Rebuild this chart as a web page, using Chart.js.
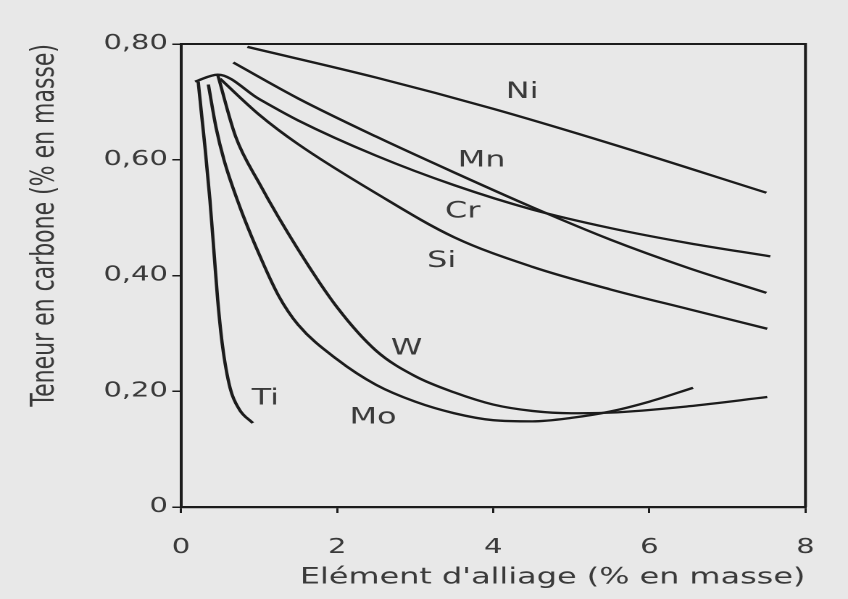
<!DOCTYPE html>
<html>
<head>
<meta charset="utf-8">
<script src="https://cdn.jsdelivr.net/npm/chart.js@4.4.1/dist/chart.umd.min.js"></script>
<style>
  html, body { margin: 0; padding: 0; background: #e8e8e8; overflow: hidden; width: 848px; height: 599px; }
  #wrap { position: absolute; left: 0; top: 0; width: 585px; height: 599px; transform-origin: 0 0; transform: scaleX(1.44957); }
</style>
</head>
<body>
<div id="wrap"><canvas id="c"></canvas></div>
<script>
// ---- data ----
const niX = [0.85, 2.5, 4.0, 5.5, 7.5];
const niY = [0.795, 0.742, 0.688, 0.628, 0.543];

const mnX = [0.67, 1.5, 2.5, 3.5, 4.5, 5.5, 6.5, 7.5];
const mnY = [0.768, 0.706, 0.640, 0.578, 0.518, 0.462, 0.413, 0.370];

const crX = [0.18, 0.47, 1.0, 1.5, 2.5, 3.5, 4.5, 5.5, 6.5, 7.55];
const crY = [0.735, 0.747, 0.705, 0.668, 0.607, 0.556, 0.514, 0.482, 0.456, 0.433];

const siX = [0.5, 1.0, 1.5, 2.5, 3.5, 4.5, 5.5, 6.5, 7.51];
const siY = [0.740, 0.678, 0.627, 0.542, 0.466, 0.415, 0.376, 0.342, 0.308];

const wX = [0.47, 0.7, 1.0, 1.5, 2.0, 2.5, 3.0, 3.5, 4.0, 4.5, 5.0, 5.5, 6.5, 7.51];
const wY = [0.747, 0.640, 0.560, 0.445, 0.345, 0.270, 0.226, 0.198, 0.177, 0.166, 0.162, 0.163, 0.174, 0.190];

const moX = [0.35, 0.45, 0.55, 0.75, 1.0, 1.25, 1.5, 2.0, 2.5, 3.0, 3.5, 4.0, 4.5, 5.0, 5.5, 6.0, 6.56];
const moY = [0.730, 0.655, 0.600, 0.520, 0.437, 0.365, 0.315, 0.255, 0.211, 0.182, 0.162, 0.150, 0.148, 0.154, 0.165, 0.182, 0.206];

const tiX = [0.22, 0.27, 0.31, 0.37, 0.42, 0.47, 0.53, 0.63, 0.75, 0.92];
const tiY = [0.735, 0.670, 0.618, 0.531, 0.445, 0.358, 0.280, 0.205, 0.168, 0.145];

const labelNames = ['Ni', 'Mn', 'Cr', 'Si', 'W', 'Mo', 'Ti'];
const labelX = [4.37, 3.85, 3.61, 3.34, 2.89, 2.46, 1.08];
const labelY = [0.717, 0.598, 0.510, 0.425, 0.273, 0.154, 0.187];

const xTickValues = [0, 2, 4, 6, 8];
const xTickLabels = ['0', '2', '4', '6', '8'];
const yTickValues = [0, 0.2, 0.4, 0.6, 0.8];
const yTickLabels = ['0', '0,20', '0,40', '0,60', '0,80'];

const xTitle = "Elément d'alliage (% en masse)";
const yTitle = 'Teneur en carbone (% en masse)';

// ---- styling ----
const S = 848 / 585;
const lineColor = '#1c1c1c';
const textColor = '#3a3a3a';
const FONT = '"DejaVu Sans", "Liberation Sans", sans-serif';

const toPts = (xs, ys) => xs.map((v, i) => ({ x: v, y: ys[i] }));
const series = [
  ['Ni', niX, niY], ['Mn', mnX, mnY], ['Cr', crX, crY], ['Si', siX, siY],
  ['W', wX, wY], ['Mo', moX, moY], ['Ti', tiX, tiY]
];

const datasets = series.map(([name, xs, ys]) => ({
  label: name,
  data: toPts(xs, ys),
  showLine: true,
  borderColor: lineColor,
  backgroundColor: lineColor,
  borderWidth: 2.3,
  pointRadius: 0,
  fill: false,
  cubicInterpolationMode: 'monotone'
}));

const framePlugin = {
  id: 'frame',
  afterDatasetsDraw(chart) {
    const { ctx, chartArea: a } = chart;
    ctx.save();
    ctx.strokeStyle = lineColor;
    ctx.lineWidth = 2;
    ctx.beginPath();
    ctx.moveTo(a.left, a.top);
    ctx.lineTo(a.right, a.top);
    ctx.lineTo(a.right, a.bottom);
    ctx.stroke();
    ctx.restore();
  }
};

const curveLabelPlugin = {
  id: 'curveLabels',
  afterDatasetsDraw(chart) {
    const { ctx, scales: { x, y } } = chart;
    ctx.save();
    ctx.font = '22px ' + FONT;
    ctx.fillStyle = textColor;
    ctx.textAlign = 'center';
    ctx.textBaseline = 'middle';
    labelNames.forEach((n, i) => {
      ctx.fillText(n, x.getPixelForValue(labelX[i]), y.getPixelForValue(labelY[i]));
    });
    ctx.restore();
  }
};

new Chart(document.getElementById('c'), {
  type: 'scatter',
  data: { datasets },
  plugins: [framePlugin, curveLabelPlugin],
  options: {
    responsive: true,
    maintainAspectRatio: false,
    devicePixelRatio: 2,
    animation: false,
    layout: { padding: { left: 0, right: 29, top: 44, bottom: 0 } },
    plugins: { legend: { display: false }, tooltip: { enabled: false } },
    scales: {
      x: {
        type: 'linear',
        min: 0, max: 8,
        afterBuildTicks: (s) => { s.ticks = xTickValues.map(v => ({ value: v })); },
        afterFit: (s) => { s.height = 92; },
        ticks: {
          callback: (v, i) => xTickLabels[i],
          color: textColor,
          font: { family: FONT, size: 20 },
          padding: 23,
          maxRotation: 0
        },
        grid: { display: true, drawOnChartArea: false, drawTicks: true, tickLength: 6, color: lineColor, lineWidth: 1.5 },
        border: { display: true, color: lineColor, width: 2.2 },
        title: {
          display: true, text: xTitle, align: 'end', color: textColor,
          font: { family: FONT, size: 22 }, padding: { top: 0, bottom: 8 }
        }
      },
      y: {
        type: 'linear',
        min: 0, max: 0.8,
        afterBuildTicks: (s) => { s.ticks = yTickValues.map(v => ({ value: v })); },
        afterFit: (s) => { s.width = 181 / S; },
        ticks: {
          callback: (v, i) => yTickLabels[i],
          color: textColor,
          font: { family: FONT, size: 20 },
          padding: 3
        },
        grid: { display: true, drawOnChartArea: false, drawTicks: true, tickLength: 6, color: lineColor, lineWidth: 1.5 },
        border: { display: true, color: lineColor, width: 2 },
        title: {
          display: true, text: yTitle, align: 'end', color: textColor,
          font: { family: FONT, size: 22 }, padding: { top: 18, bottom: 0 }
        }
      }
    }
  }
});
</script>
</body>
</html>
